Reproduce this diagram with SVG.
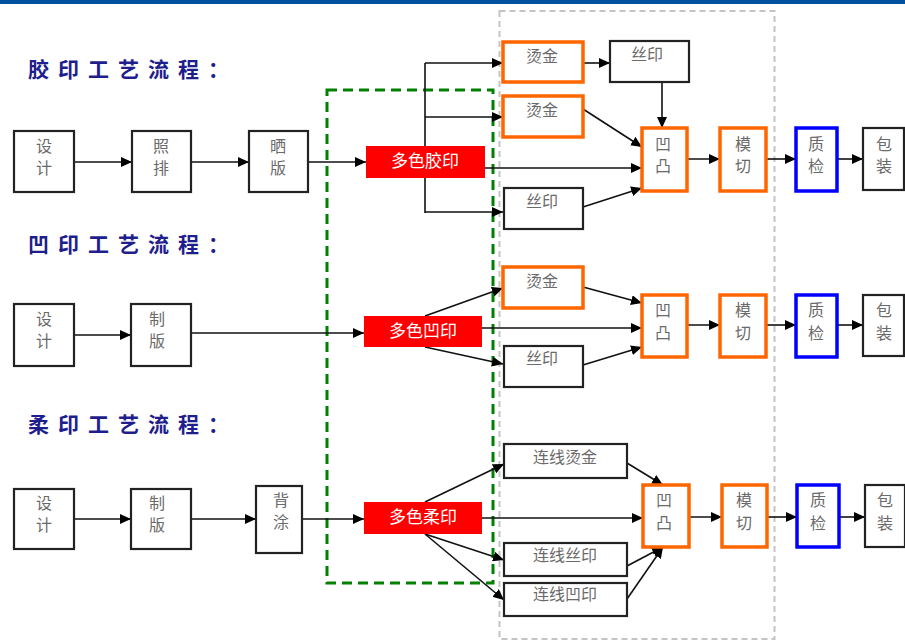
<svg xmlns="http://www.w3.org/2000/svg" width="905" height="642" viewBox="0 0 905 642">
<defs>
<marker id="ah" markerWidth="12" markerHeight="10" refX="11" refY="5" orient="auto" markerUnits="userSpaceOnUse">
<path d="M0,0 L11,5 L0,10 z" fill="#000"/>
</marker>
<style>
.bx{fill:#fff;stroke:#222;stroke-width:2.2}
.ob{fill:#fff;stroke:#ff6600;stroke-width:3.5}
.bb{fill:#fff;stroke:#0000ff;stroke-width:3.5}
.rb{fill:#ff0000;stroke:none}
.t{font-family:"Noto Sans CJK SC","Liberation Serif",serif;font-size:16px;fill:#6a6a6a;text-anchor:middle}
.w{font-family:"Noto Sans CJK SC","Liberation Sans",sans-serif;font-size:17px;fill:#fff;text-anchor:middle}
.h{font-family:"Noto Sans CJK SC","Liberation Sans",sans-serif;font-size:21px;font-weight:bold;fill:#1e1e8c;letter-spacing:9px}
.c{fill:none;stroke:#111;stroke-width:1.6}
.a{fill:none;stroke:#111;stroke-width:1.6;marker-end:url(#ah)}
</style>
</defs>
<rect x="0" y="0" width="905" height="4" fill="#0050a0"/>
<rect id="grayzone" x="499.5" y="11" width="275" height="628" fill="none" stroke="#c4c4c4" stroke-width="2" stroke-dasharray="6,4"/>
<rect id="greenzone" x="327" y="90" width="166" height="493" fill="none" stroke="#008000" stroke-width="3" stroke-dasharray="10,6"/>

<text class="h" x="28" y="77">胶印工艺流程：</text>
<text class="h" x="28" y="252">凹印工艺流程：</text>
<text class="h" x="28" y="432">柔印工艺流程：</text>

<g id="connectors">
<!-- row 1 -->
<path class="a" d="M74,162 H132"/>
<path class="a" d="M191,162 H249"/>
<path class="a" d="M308,162 H366"/>
<path class="c" d="M425,63 V213"/>
<path class="a" d="M425,63 H503"/>
<path class="a" d="M425,117 H503"/>
<path class="a" d="M425,212 H503"/>
<path class="a" d="M583,63 H610"/>
<path class="a" d="M662,82 V128"/>
<path class="a" d="M583,109 L642,147"/>
<path class="a" d="M485,168 H642"/>
<path class="a" d="M583,207 L642,188"/>
<path class="a" d="M687,159 H720"/>
<path class="a" d="M766,159 H796"/>
<path class="a" d="M837,159 H863"/>
<!-- row 2 -->
<path class="a" d="M74,335 H131"/>
<path class="a" d="M191,333 H364"/>
<path class="a" d="M425,316 L503,288"/>
<path class="a" d="M425,347 L503,364"/>
<path class="a" d="M482,328 H642"/>
<path class="a" d="M583,287 L642,303"/>
<path class="a" d="M583,365 L642,347"/>
<path class="a" d="M687,325 H720"/>
<path class="a" d="M766,325 H796"/>
<path class="a" d="M837,325 H863"/>
<!-- row 3 -->
<path class="a" d="M74,519 H131"/>
<path class="a" d="M191,519 H256"/>
<path class="a" d="M302,519 H364"/>
<path class="a" d="M425,502 L504,464"/>
<path class="a" d="M425,534 L504,560"/>
<path class="a" d="M425,534 L504,600"/>
<path class="a" d="M482,518 H643"/>
<path class="a" d="M627,463 L663,485"/>
<path class="a" d="M627,566 L663,547"/>
<path class="a" d="M627,599 L663,547"/>
<path class="a" d="M689,517 H722"/>
<path class="a" d="M767,517 H797"/>
<path class="a" d="M839,517 H865"/>
</g>

<!-- row 1 nodes -->
<g id="r1-design"><rect class="bx" x="14" y="131" width="60" height="61"/><text class="t" x="44" y="152">设</text><text class="t" x="44" y="174">计</text></g>
<g id="r1-zhaopai"><rect class="bx" x="132" y="131" width="59" height="61"/><text class="t" x="161" y="152">照</text><text class="t" x="161" y="174">排</text></g>
<g id="r1-shaiban"><rect class="bx" x="249" y="131" width="59" height="61"/><text class="t" x="278" y="152">晒</text><text class="t" x="278" y="174">版</text></g>
<g id="r1-offset"><rect class="rb" x="366" y="146" width="119" height="32"/><text class="w" x="425" y="167">多色胶印</text></g>
<g id="r1-foil1"><rect class="ob" x="503" y="42" width="80" height="40"/><text class="t" x="542" y="62">烫金</text></g>
<g id="r1-foil2"><rect class="ob" x="503" y="96" width="80" height="41"/><text class="t" x="542" y="116">烫金</text></g>
<g id="r1-silk1"><rect class="bx" x="504" y="188" width="79" height="41"/><text class="t" x="542" y="207">丝印</text></g>
<g id="r1-silk2"><rect class="bx" x="610" y="41" width="79" height="41"/><text class="t" x="647" y="60">丝印</text></g>
<g id="r1-emboss"><rect class="ob" x="642" y="128" width="45" height="63"/><text class="t" x="663" y="150">凹</text><text class="t" x="663" y="172">凸</text></g>
<g id="r1-diecut"><rect class="ob" x="720" y="128" width="46" height="63"/><text class="t" x="743" y="150">模</text><text class="t" x="743" y="172">切</text></g>
<g id="r1-qc"><rect class="bb" x="796" y="128" width="41" height="63"/><text class="t" x="816" y="150">质</text><text class="t" x="816" y="172">检</text></g>
<g id="r1-pack"><rect class="bx" x="863" y="128" width="41" height="62"/><text class="t" x="884" y="150">包</text><text class="t" x="884" y="172">装</text></g>

<!-- row 2 nodes -->
<g id="r2-design"><rect class="bx" x="14" y="304" width="60" height="62"/><text class="t" x="44" y="325">设</text><text class="t" x="44" y="347">计</text></g>
<g id="r2-zhiban"><rect class="bx" x="131" y="304" width="60" height="62"/><text class="t" x="157" y="325">制</text><text class="t" x="157" y="347">版</text></g>
<g id="r2-gravure"><rect class="rb" x="364" y="316" width="118" height="31"/><text class="w" x="423" y="337">多色凹印</text></g>
<g id="r2-foil"><rect class="ob" x="503" y="267" width="80" height="41"/><text class="t" x="542" y="287">烫金</text></g>
<g id="r2-silk"><rect class="bx" x="504" y="346" width="79" height="41"/><text class="t" x="542" y="364">丝印</text></g>
<g id="r2-emboss"><rect class="ob" x="642" y="295" width="45" height="62"/><text class="t" x="663" y="316">凹</text><text class="t" x="663" y="339">凸</text></g>
<g id="r2-diecut"><rect class="ob" x="720" y="295" width="46" height="62"/><text class="t" x="743" y="316">模</text><text class="t" x="743" y="339">切</text></g>
<g id="r2-qc"><rect class="bb" x="796" y="295" width="41" height="62"/><text class="t" x="816" y="316">质</text><text class="t" x="816" y="339">检</text></g>
<g id="r2-pack"><rect class="bx" x="863" y="295" width="41" height="61"/><text class="t" x="884" y="316">包</text><text class="t" x="884" y="339">装</text></g>

<!-- row 3 nodes -->
<g id="r3-design"><rect class="bx" x="14" y="489" width="60" height="60"/><text class="t" x="44" y="509">设</text><text class="t" x="44" y="531">计</text></g>
<g id="r3-zhiban"><rect class="bx" x="131" y="489" width="60" height="60"/><text class="t" x="157" y="509">制</text><text class="t" x="157" y="531">版</text></g>
<g id="r3-beitu"><rect class="bx" x="256" y="486" width="46" height="67"/><text class="t" x="281" y="506">背</text><text class="t" x="281" y="528">涂</text></g>
<g id="r3-flexo"><rect class="rb" x="364" y="502" width="118" height="32"/><text class="w" x="423" y="523">多色柔印</text></g>
<g id="r3-foil"><rect class="bx" x="504" y="444" width="123" height="34"/><text class="t" x="565" y="463">连线烫金</text></g>
<g id="r3-silk"><rect class="bx" x="504" y="543" width="123" height="33"/><text class="t" x="565" y="561">连线丝印</text></g>
<g id="r3-gravure"><rect class="bx" x="504" y="583" width="123" height="33"/><text class="t" x="565" y="600">连线凹印</text></g>
<g id="r3-emboss"><rect class="ob" x="643" y="485" width="46" height="62"/><text class="t" x="664" y="506">凹</text><text class="t" x="664" y="529">凸</text></g>
<g id="r3-diecut"><rect class="ob" x="722" y="485" width="45" height="62"/><text class="t" x="744" y="506">模</text><text class="t" x="744" y="529">切</text></g>
<g id="r3-qc"><rect class="bb" x="797" y="485" width="42" height="62"/><text class="t" x="818" y="506">质</text><text class="t" x="818" y="529">检</text></g>
<g id="r3-pack"><rect class="bx" x="865" y="485" width="40" height="62"/><text class="t" x="885" y="506">包</text><text class="t" x="885" y="529">装</text></g>
</svg>
